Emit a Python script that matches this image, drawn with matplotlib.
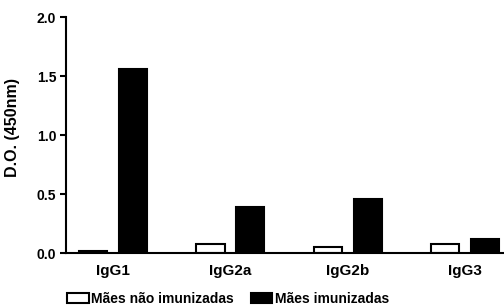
import matplotlib
matplotlib.use("Agg")
import matplotlib.pyplot as plt
from matplotlib.patches import Patch
import numpy as np

plt.rcParams["font.family"] = ["Liberation Sans", "DejaVu Sans"]
plt.rcParams["font.weight"] = "bold"

categories = ["IgG1", "IgG2a", "IgG2b", "IgG3"]
nao_imunizadas = [0.015, 0.079, 0.048, 0.079]
imunizadas = [1.56, 0.388, 0.458, 0.116]
labels = ["Mães não imunizadas", "Mães imunizadas"]

fig = plt.figure(figsize=(5.04, 3.05), dpi=100)
ax = fig.add_axes([0.131, 0.170, 0.869, 0.774])

x = np.arange(len(categories))
w = 0.24
off = 0.17
ax.bar(x - off, nao_imunizadas, w, color="white", edgecolor="black", linewidth=1.5)
ax.bar(x + off, imunizadas, w, color="black", edgecolor="black", linewidth=1.5)

ax.set_xlim(-0.40, 3.33)
ax.set_ylim(0, 2.0)
ax.set_yticks([0.0, 0.5, 1.0, 1.5, 2.0])
ax.set_yticklabels(["0.0", "0.5", "1.0", "1.5", "2.0"], fontsize=10, fontweight="bold")
ax.set_xticks(x)
ax.set_xticklabels(categories, fontsize=11, fontweight="bold")
ax.tick_params(axis="x", length=0, pad=8)
ax.tick_params(axis="y", length=4, width=1.5, pad=3)
ax.set_ylabel("D.O. (450nm)", fontsize=11.5, fontweight="bold")
ax.yaxis.set_label_coords(-0.105, 0.534)

for s in ["top", "right"]:
    ax.spines[s].set_visible(False)
for s in ["left", "bottom"]:
    ax.spines[s].set_linewidth(1.5)

handles = [Patch(facecolor="white", edgecolor="black", linewidth=1.5),
           Patch(facecolor="black", edgecolor="black", linewidth=1.5)]
fig.legend(handles, labels, loc="lower left", bbox_to_anchor=(0.122, -0.022), ncol=2,
           frameon=False, handlelength=1.55, handleheight=0.7,
           handletextpad=0.2, columnspacing=1.2, borderaxespad=0.0,
           prop={"weight": "bold", "size": 10})

fig.savefig("out.png", dpi=100)
